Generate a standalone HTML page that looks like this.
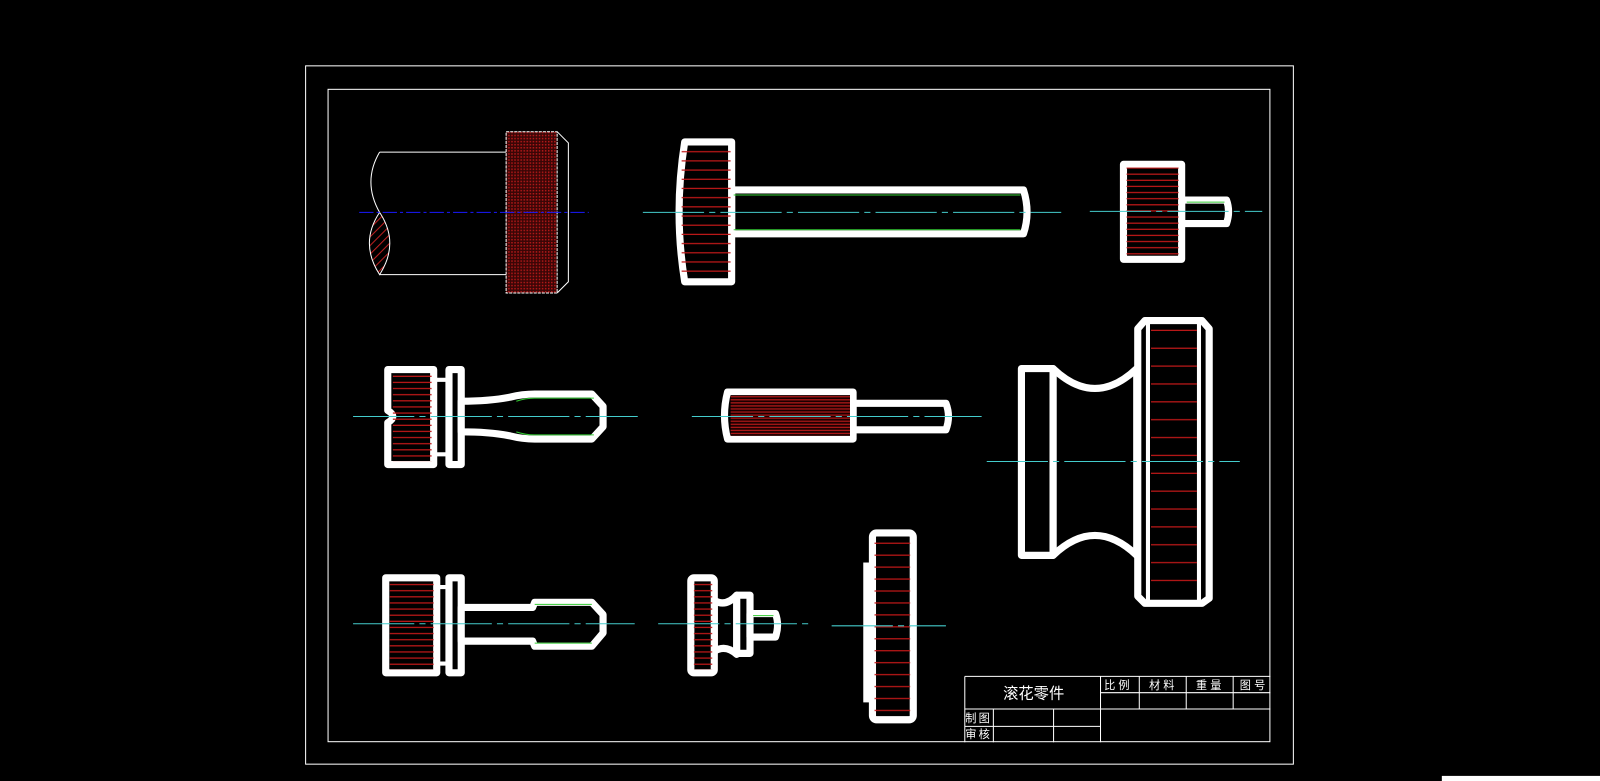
<!DOCTYPE html>
<html><head><meta charset="utf-8"><style>
html,body{margin:0;padding:0;background:#000;width:1600px;height:781px;overflow:hidden}
svg{display:block}
text{font-family:"Liberation Sans","Noto Sans CJK SC",sans-serif;fill:#fff}
</style></head><body>
<svg width="1600" height="781" viewBox="0 0 1568 765" preserveAspectRatio="none">
<defs>
<pattern id="xh" width="3" height="3" patternUnits="userSpaceOnUse"><rect width="3" height="3" fill="#3a0606"/><rect width="1.5" height="1.5" fill="#b01818"/></pattern>
<pattern id="s9" width="10" height="9" patternUnits="userSpaceOnUse"><rect y="4" width="10" height="1.2" fill="#c01818"/></pattern>
<pattern id="s6" width="10" height="6" patternUnits="userSpaceOnUse"><rect y="2" width="10" height="1.2" fill="#c01818"/></pattern>
<pattern id="s3" width="10" height="3" patternUnits="userSpaceOnUse"><rect width="10" height="3" fill="#1a0000"/><rect y="1" width="10" height="1.2" fill="#b01818"/></pattern>
<pattern id="s17" width="10" height="17.5" patternUnits="userSpaceOnUse"><rect y="8" width="10" height="1.2" fill="#c01818"/></pattern>
<pattern id="s12" width="10" height="11.7" patternUnits="userSpaceOnUse"><rect y="5" width="10" height="1.2" fill="#c01818"/></pattern>
<pattern id="hd" width="6" height="6" patternUnits="userSpaceOnUse" patternTransform="rotate(-45)"><rect width="6" height="1" fill="#c02020"/></pattern>
</defs>
<g fill="none" stroke="#fff" stroke-width="1">
<rect x="299.5" y="64.5" width="968" height="684"/>
<rect x="321.5" y="87.5" width="923" height="639"/>
<path d="M945.5 662.5H1245M945.5 662.5V727M1078.5 662.5V727M945.5 694.5H1245M1078 678.5H1245M945.5 711.5H1078M973.5 694.5V727M1032.5 694.5V727M1116.5 662.5V694.5M1162.5 662.5V694.5M1208.5 662.5V694.5"/>
</g>
<g>
<text x="1013" y="684" font-size="15" text-anchor="middle">滚花零件</text>
<text x="1096" y="675" font-size="11" text-anchor="middle" letter-spacing="3">比例</text>
<text x="1140" y="675" font-size="11" text-anchor="middle" letter-spacing="3">材料</text>
<text x="1186" y="675" font-size="11" text-anchor="middle" letter-spacing="3">重量</text>
<text x="1229" y="675" font-size="11" text-anchor="middle" letter-spacing="3">图号</text>
<text x="959" y="707" font-size="11" text-anchor="middle" letter-spacing="2">制图</text>
<text x="959" y="723" font-size="11" text-anchor="middle" letter-spacing="2">审核</text>
</g>
<rect x="1413" y="760" width="155" height="5" fill="#fff"/>

<!-- Part 1 -->
<rect x="496" y="129" width="50" height="158" fill="url(#xh)"/>
<path d="M372 208Q352 238 372 269Q392 238 372 208Z" fill="url(#hd)"/>
<g fill="none" stroke="#fff" stroke-width="1">
<path d="M372 149H496M372 269H496M372 149Q355 178 372 208M372 208Q352 238 372 269Q392 238 372 208"/>
<path d="M496 129H546V287H496Z" stroke-dasharray="3 1"/>
<path d="M546 129L557 140V276L546 287"/>
</g>
<line x1="352" y1="208" x2="577" y2="208" stroke="#1a1aff" stroke-width="1" stroke-dasharray="14 3 3 3"/>

<g stroke="#fff" stroke-width="7" fill="#000" stroke-linejoin="round">
<path d="M717 186H1003Q1010 208 1003 229H717Z"/>
<path d="M671 139H717V276H671Q660 208 671 139Z"/>
<path d="M1158 196H1202Q1206 207 1202 219H1158Z"/>
<rect x="1101" y="161" width="57" height="93"/>
<path d="M425 372H440V445H425Z" stroke-width="4"/>
<path d="M380 362H425V455H380V414Q390 408 380 402Z"/>
<rect x="440" y="362" width="12" height="93"/>
<path d="M452 393Q480 393 500 389Q512 386 524 386H580L591 398V418L580 430H524Q512 430 500 427Q480 423 452 423Z"/>
<path d="M836 395H927Q932 408 927 421H836Z"/>
<path d="M713 384H836V430H713Q707 407 713 384Z"/>
<path d="M1032 361Q1073 400 1114 361V544Q1073 505 1032 544Z"/>
<rect x="1001" y="361" width="31" height="183"/>
<path d="M1122 314H1178L1185 322V586L1178 591H1122L1115 584V322Z"/>
<path d="M425 575H440V650H425Z" stroke-width="4"/>
<rect x="378" y="566" width="50" height="93"/>
<rect x="440" y="566" width="12" height="93"/>
<path d="M452 595H522L524 590H580L591 602V620L580 633H524L522 628H452Z"/>
<path d="M700 588Q711 595 722 583V641Q711 631 700 638Z"/>
<rect x="677" y="566" width="23" height="93" rx="3"/>
<rect x="722" y="583" width="13" height="57"/>
<path d="M735 601H760Q764 612 760 624H735Z"/>
<rect x="855" y="522" width="40" height="183" rx="4"/>
</g>
<rect x="846" y="551" width="8" height="137" fill="#fff"/>
<g stroke="#fff" stroke-width="4"><line x1="1125" y1="316" x2="1125" y2="589"/><line x1="1175" y1="316" x2="1175" y2="589"/></g>

<rect x="668" y="143" width="48" height="130" fill="url(#s9)"/>
<rect x="1104" y="164" width="51" height="87" fill="url(#s6)"/>
<rect x="385" y="366" width="38" height="86" fill="url(#s6)"/>
<rect x="716" y="387" width="117" height="40" fill="url(#s3)"/>
<rect x="1128" y="322" width="45" height="262" fill="url(#s17)"/>
<rect x="382" y="569" width="43" height="87" fill="url(#s6)"/>
<rect x="680" y="569" width="18" height="87" fill="url(#s6)"/>
<rect x="857" y="526" width="35" height="175" fill="url(#s12)"/>

<g stroke="#3c3" stroke-width="1">
<path d="M719 191H1000M719 225H1000M1163 198H1200M506 393Q515 390 524 390H582M506 423Q515 426 524 426H582M524 592H580M524 630H580M738 603H758"/>
</g>

<g stroke="#4cc" stroke-width="1" stroke-dasharray="60 5 6 5" fill="none">
<line x1="630" y1="208" x2="1040" y2="208"/>
<line x1="1068" y1="207" x2="1237" y2="207"/>
<line x1="346" y1="408" x2="625" y2="408"/>
<line x1="678" y1="408" x2="962" y2="408"/>
<line x1="967" y1="452" x2="1215" y2="452"/>
<line x1="346" y1="611" x2="622" y2="611"/>
<line x1="645" y1="611" x2="796" y2="611"/>
<line x1="815" y1="613" x2="927" y2="613"/>
</g>
</svg>
</body></html>
